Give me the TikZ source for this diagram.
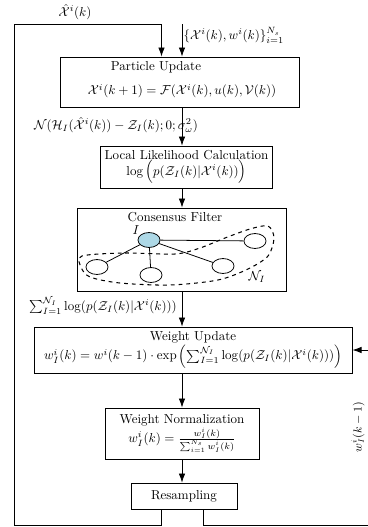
\documentclass[tikz,border=0pt]{standalone}
\usepackage{amsmath,amssymb}
\usetikzlibrary{arrows.meta,shapes.geometric}
\definecolor{agentblue}{RGB}{173,216,230}
\tikzset{
  box/.style={draw, line width=0.6pt, align=center, inner sep=2pt},
  agent/.style={draw, ellipse, minimum width=17pt, minimum height=11.5pt, inner sep=0pt, line width=0.6pt},
  flow/.style={-{Latex[length=7pt,width=5pt]}, line width=0.6pt},
  wire/.style={line width=0.6pt}
}
\begin{document}
\begin{tikzpicture}[x=0.77pt, y=-0.77pt]
  \useasboundingbox (0,0) rectangle (368,527);
  \coordinate (ax) at (182,0);
  \coordinate (fbX) at (161.5,24);
  \coordinate (inTop) at (182,24);
  \coordinate (loopTL) at (14,24);
  \coordinate (loopBL) at (14,525);
  \coordinate (fbR) at (203,525);
  \coordinate (loopBR) at (368,525);
  \coordinate (wIn) at (368,350);

  \node[box, minimum width=184pt, minimum height=38.5pt] (pu) at (179.5,82) {};
  \node (puT) at (156,67) {Particle Update};
  \node (puF) at (182,91) {$\mathcal{X}^i(k+1)=\mathcal{F}(\mathcal{X}^i(k),u(k),\mathcal{V}(k))$};
  \node[box, minimum width=133pt, minimum height=32.3pt] (ll) at (186.5,167)
    {Local Likelihood Calculation\\ $\log\Big(p(\mathcal{Z}_I(k)|\mathcal{X}^i(k))\Big)$};
  \node[box, minimum width=161pt, minimum height=63.9pt] (cf) at (181.5,249.5) {};
  \node (cfT) at (175,217) {Consensus Filter};
  \node[box, minimum width=245pt, minimum height=35.4pt] (wu) at (193,350)
    {Weight Update\\ $w_I^i(k)=w^i(k-1)\cdot\exp\left(\sum_{I=1}^{\mathcal{N}_I}\log(p(\mathcal{Z}_I(k)|\mathcal{X}^i(k)))\right)$};
  \node[box, minimum width=118.6pt, minimum height=39.3pt] (wn) at (182,433.5)
    {Weight Normalization\\ $w_I^i(k)=\frac{w_I^i(k)}{\sum_{i=1}^{N_s}w_I^i(k)}$};
  \node[box, minimum width=81.6pt, minimum height=20pt] (rs) at (184,496) {Resampling};

  \node[agent, fill=agentblue] (nI) at (149,240) {};
  \node[agent] (nR) at (255,241) {};
  \node[agent] (nL) at (97,267) {};
  \node[agent] (nB) at (151,275) {};
  \node[agent] (nM) at (223,266) {};
  \node (lI) at (136,230) {$I$};
  \node (lN) at (257,277) {$\mathcal{N}_I$};
  \foreach \n in {nR,nL,nB,nM}
    \draw[wire] (nI) -- (\n);
  \draw[dashed, line width=0.8pt] plot[smooth cycle] coordinates
    {(82,256) (125,253) (175,254) (200,248) (225,238) (250,229) (268,226)
     (274,238) (268,256) (248,269) (218,280) (170,285) (120,283) (90,277) (81,267)};

  \node (lXh) at (75,12) {$\hat{\mathcal{X}}^i(k)$};
  \node (lNs) at (116,125) {$\mathcal{N}(\mathcal{H}_I(\hat{\mathcal{X}}^i(k))-\mathcal{Z}_I(k);0;\sigma_\omega^2)$};
  \node (lSum) at (103,306) {$\sum_{I=1}^{\mathcal{N}_I}\log(p(\mathcal{Z}_I(k)|\mathcal{X}^i(k)))$};
  \node[rotate=90] (lW) at (358,427) {\small $w_I^i(k-1)$};

  \draw[flow] (inTop) -- (pu.north -| inTop)
    node[pos=0.35, anchor=west, inner sep=1pt] (lIn) {$\{\mathcal{X}^i(k),w^i(k)\}_{i=1}^{N_s}$};
  \draw[flow] (pu.south -| ax) -- (ll.north -| ax);
  \draw[flow] (ll.south -| ax) -- (cf.north -| ax);
  \draw[flow] (cf.south -| ax) -- (wu.north -| ax);
  \draw[flow] (wu.south -| ax) -- (wn.north -| ax);
  \draw[flow] (wn.south -| ax) -- (rs.north -| ax);
  \draw[flow] (rs.south -| fbX) |- (loopBL) -- (loopTL) -- (fbX) -- (pu.north -| fbX);
  \draw[wire] (rs.south -| fbR) -- (fbR) -- (loopBR);
  \draw[flow] (wIn) -- (wu.east);
\end{tikzpicture}
\end{document}
